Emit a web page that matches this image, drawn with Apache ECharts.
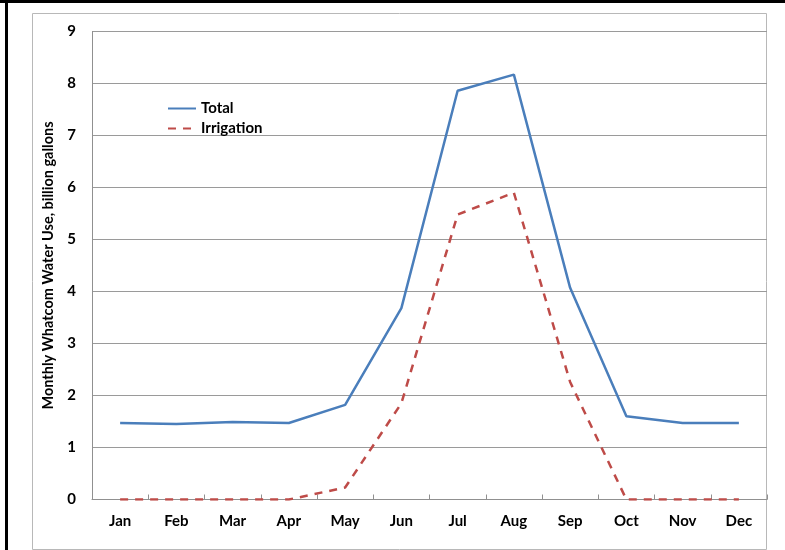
<!DOCTYPE html>
<html>
<head>
<meta charset="utf-8">
<script src="https://cdn.jsdelivr.net/npm/echarts@6/dist/echarts.min.js"></script>
<style>
  html, body { margin: 0; padding: 0; background: #fff; }
  #chart { width: 785px; height: 550px; }
</style>
</head>
<body>
<div id="chart"></div>
<script>
// Monthly water use in Whatcom County, billion gallons
const months = ['Jan', 'Feb', 'Mar', 'Apr', 'May', 'Jun', 'Jul', 'Aug', 'Sep', 'Oct', 'Nov', 'Dec'];
const totalUse = [1.47, 1.45, 1.49, 1.47, 1.82, 3.68, 7.86, 8.17, 4.07, 1.60, 1.47, 1.47];
const irrigationUse = [0, 0, 0, 0, 0.23, 1.85, 5.48, 5.90, 2.26, 0, 0, 0];
const yTicks = [0, 1, 2, 3, 4, 5, 6, 7, 8, 9];

const FONT = 'Lato';
const chart = echarts.init(document.getElementById('chart'), null, { renderer: 'canvas' });

chart.setOption({
  backgroundColor: '#ffffff',
  animation: false,
  textStyle: { fontFamily: FONT },
  graphic: [
    // outer frame (top and left edges)
    { type: 'rect', shape: { x: 0, y: 0, width: 785, height: 3 }, style: { fill: '#000' } },
    { type: 'rect', shape: { x: 5, y: 0, width: 3, height: 550 }, style: { fill: '#000' } },
    // chart area border
    { type: 'rect', shape: { x: 32.5, y: 13.5, width: 734, height: 536 },
      style: { fill: 'none', stroke: '#b8b8b8', lineWidth: 1 } }
  ],
  grid: { left: 92, right: 18, top: 31.5, bottom: 50.5, containLabel: false },
  legend: {
    orient: 'vertical',
    left: 162, top: 96,
    itemWidth: 28, itemHeight: 14, itemGap: 5,
    itemStyle: { opacity: 0 },
    textStyle: { fontFamily: FONT, fontWeight: 'bold', fontSize: 15, color: '#000' },
    data: ['Total', 'Irrigation']
  },
  xAxis: {
    type: 'category',
    data: months,
    boundaryGap: true,
    axisLine: { lineStyle: { color: '#909090', width: 1 } },
    axisTick: { show: true, inside: true, length: 5, lineStyle: { color: '#909090' } },
    axisLabel: { fontFamily: FONT, fontWeight: 'bold', fontSize: 15, color: '#000', margin: 14 }
  },
  yAxis: {
    type: 'value',
    min: yTicks[0], max: yTicks[yTicks.length - 1], interval: 1,
    name: 'Monthly Whatcom Water Use, billion gallons',
    nameLocation: 'middle',
    nameGap: 36,
    nameTextStyle: { fontFamily: FONT, fontWeight: 'bold', fontSize: 14.5, color: '#000' },
    axisLine: { show: true, lineStyle: { color: '#909090', width: 1 } },
    axisTick: { show: false },
    axisLabel: { fontFamily: FONT, fontWeight: 'bold', fontSize: 15, color: '#000', margin: 16 },
    splitLine: { show: true, lineStyle: { color: '#9a9a9a', width: 1.2 } }
  },
  series: [
    {
      name: 'Total',
      type: 'line',
      data: totalUse,
      symbol: 'none',
      color: '#4a7ebb',
      lineStyle: { color: '#4a7ebb', width: 2.5 }
    },
    {
      name: 'Irrigation',
      type: 'line',
      data: irrigationUse,
      symbol: 'none',
      color: '#be4b48',
      lineStyle: { color: '#be4b48', width: 2.5, type: [8, 7] }
    }
  ]
});
</script>
</body>
</html>
